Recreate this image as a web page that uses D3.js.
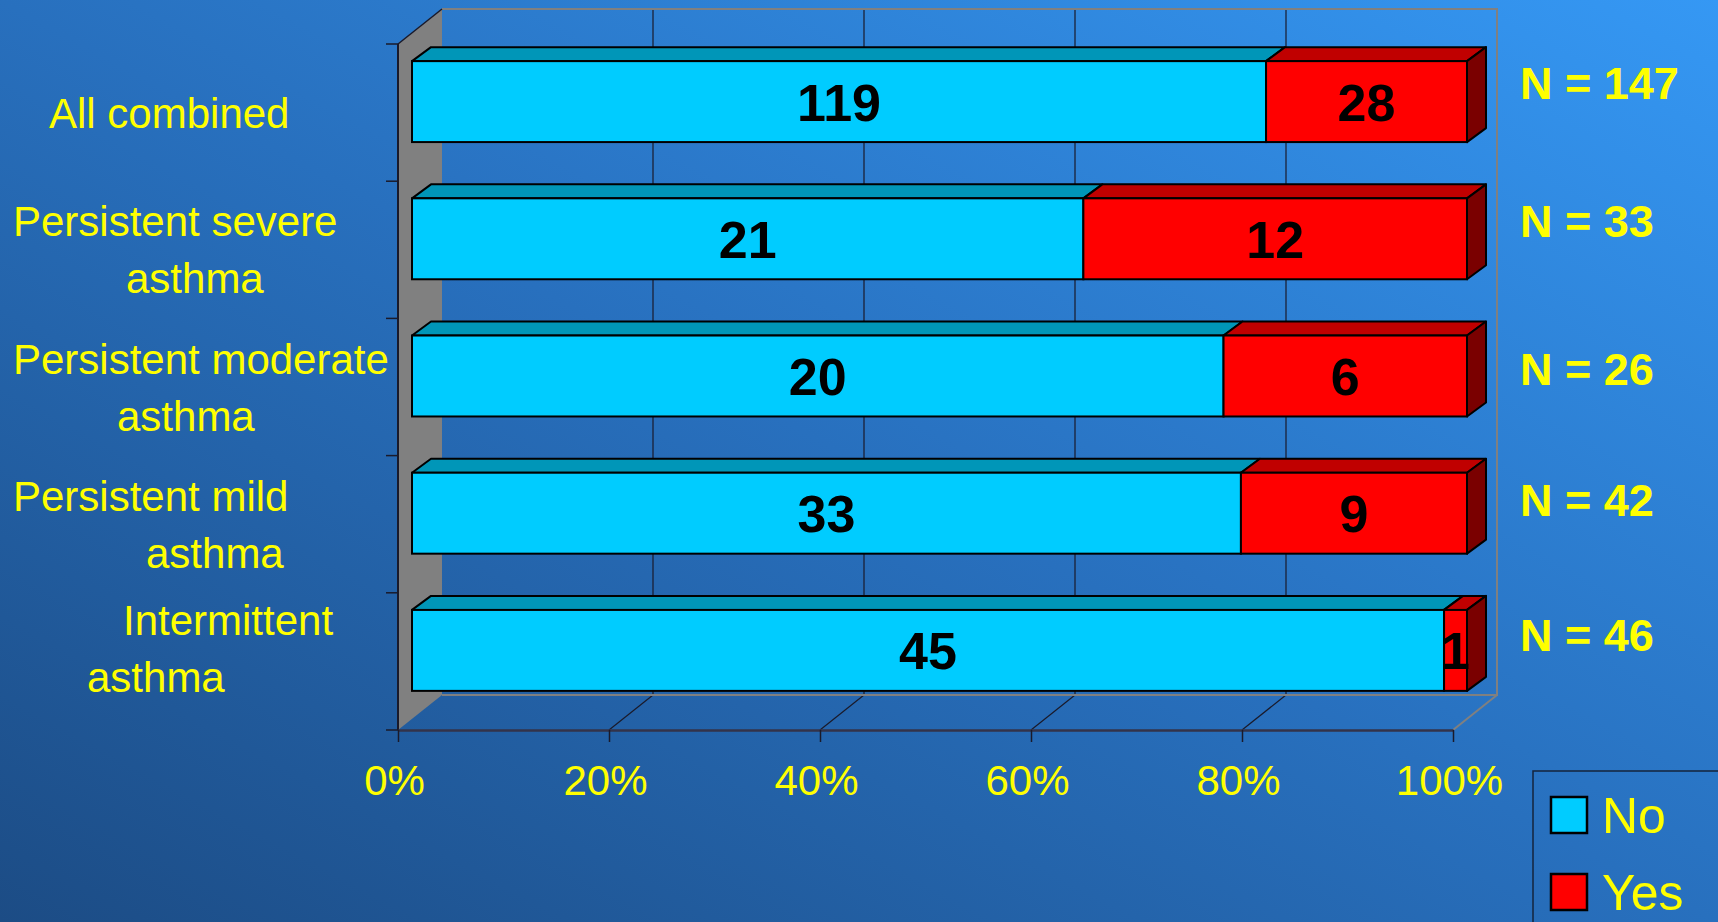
<!DOCTYPE html>
<html>
<head>
<meta charset="utf-8">
<script src="https://cdn.jsdelivr.net/npm/d3@7"></script>
<style>
  html, body { margin: 0; padding: 0; overflow: hidden; }
  svg { display: block; }
</style>
</head>
<body>
<svg id="chart" width="1718" height="922"></svg>
<script>
// ---------- DATA ----------
const categories = ["All combined", "Persistent severe asthma", "Persistent moderate asthma", "Persistent mild asthma", "Intermittent asthma"];
const categoryLines = [["All combined"], ["Persistent severe", "asthma"], ["Persistent moderate", "asthma"], ["Persistent mild", "asthma"], ["Intermittent", "asthma"]];
const seriesNames = ["No", "Yes"];
const noValues = [119, 21, 20, 33, 45];
const yesValues = [28, 12, 6, 9, 1];
const xTickValues = [0, 20, 40, 60, 80, 100];

// ---------- LAYOUT (positions / styles, separate from data) ----------
const W = 1718, H = 922;
const labelLayout = [
  { x: [49], dy: 0 },
  { x: [13, 126], dy: 0 },
  { x: [13, 117], dy: 0 },
  { x: [13, 146], dy: 0 },
  { x: [123, 87], dy: -13 }
];
const nLabelNudge = [-19, -18, -7, -13, -15];
const colors = {
  No:  { front: "#00CCFF", top: "#0096B8", side: "#007A99" },
  Yes: { front: "#FF0000", top: "#C00000", side: "#7A0000" }
};
const wallD = { dx: 44, dy: -35 };
const barF = { dx: 14, dy: -11 };
const barB = { dx: 33, dy: -25 };

const svg = d3.select("#chart");

// background gradient
const defs = svg.append("defs");
const grad = defs.append("linearGradient").attr("id", "bg")
  .attr("x1", "0").attr("y1", "1").attr("x2", "1").attr("y2", "0");
grad.append("stop").attr("offset", "0%").attr("stop-color", "#1C4C85");
grad.append("stop").attr("offset", "50%").attr("stop-color", "#2870BE");
grad.append("stop").attr("offset", "100%").attr("stop-color", "#3598F4");
svg.append("rect").attr("width", W).attr("height", H).attr("fill", "url(#bg)");

// scales
const x = d3.scaleLinear().domain([0, 100]).range([398, 1453]);
const y = d3.scaleBand().domain(categories).range([44, 730]).paddingInner(0.41).paddingOuter(0.205);
const yTop = 44, yBot = 730;
const bw = y.bandwidth();
const step = y.step();

// ---------- walls ----------
const g = svg.append("g");
// left (side) wall
g.append("polygon")
  .attr("points", [[x(0), yTop], [x(0) + wallD.dx, yTop + wallD.dy], [x(0) + wallD.dx, yBot + wallD.dy], [x(0), yBot]].join(" "))
  .attr("fill", "#808080");

// back wall gridlines
xTickValues.filter(v => v > 0 && v < 100).forEach(v => {
  g.append("line")
    .attr("x1", x(v) + wallD.dx).attr("x2", x(v) + wallD.dx)
    .attr("y1", yTop + wallD.dy).attr("y2", yBot + wallD.dy)
    .attr("stroke", "#1A1A2A").attr("stroke-width", 1.2);
  // floor diagonals
  g.append("line")
    .attr("x1", x(v)).attr("y1", yBot)
    .attr("x2", x(v) + wallD.dx).attr("y2", yBot + wallD.dy)
    .attr("stroke", "#1A1A2A").attr("stroke-width", 1.2);
});

// back wall border (gray)
g.append("path")
  .attr("d", `M${x(0) + wallD.dx},${yTop + wallD.dy} L${x(100) + wallD.dx},${yTop + wallD.dy} L${x(100) + wallD.dx},${yBot + wallD.dy} L${x(0) + wallD.dx},${yBot + wallD.dy}`)
  .attr("fill", "none").attr("stroke", "#808080").attr("stroke-width", 2);
g.append("line")
  .attr("x1", x(100) + wallD.dx).attr("y1", yBot + wallD.dy)
  .attr("x2", x(100)).attr("y2", yBot)
  .attr("stroke", "#808080").attr("stroke-width", 2);
// top diagonal of side wall
g.append("line")
  .attr("x1", x(0)).attr("y1", yTop)
  .attr("x2", x(0) + wallD.dx).attr("y2", yTop + wallD.dy)
  .attr("stroke", "#1A1A2A").attr("stroke-width", 1.5);

// ---------- axes ----------
g.append("line").attr("x1", x(0)).attr("x2", x(0)).attr("y1", yTop).attr("y2", yBot)
  .attr("stroke", "#1A1A2A").attr("stroke-width", 2);
const boundaries = categories.map(c => y(c) - (step - bw) / 2).concat([yBot]);
boundaries.forEach(b => {
  g.append("line").attr("x1", x(0) - 12).attr("x2", x(0)).attr("y1", b).attr("y2", b)
    .attr("stroke", "#1A1A2A").attr("stroke-width", 1.5);
});

const xAxis = d3.axisBottom(x).tickValues(xTickValues).tickSize(12).tickSizeOuter(0).tickFormat(d => d + "%");
const ax = svg.append("g").attr("transform", `translate(0,${yBot})`).call(xAxis);
ax.select(".domain").attr("stroke", "#33334A").attr("stroke-width", 2.5);
ax.selectAll(".tick line").attr("stroke", "#1A1A2A").attr("stroke-width", 1.5);
ax.selectAll(".tick text")
  .attr("y", 65).attr("dy", null).attr("dx", -4)
  .attr("fill", "#FFFF00")
  .style("font-family", "'Liberation Sans', Arial, sans-serif")
  .style("font-size", "42px");

// ---------- bars ----------
const rows = categories.map((c, i) => {
  const total = noValues[i] + yesValues[i];
  const noPct = noValues[i] / total * 100;
  return {
    cat: c, i, total,
    segs: [
      { s: "No", v: noValues[i], x0: 0, x1: noPct, last: false },
      { s: "Yes", v: yesValues[i], x0: noPct, x1: 100, last: true }
    ]
  };
});

const bars = svg.append("g");
const ddx = barB.dx - barF.dx, ddy = barB.dy - barF.dy;
rows.forEach(r => {
  const Y0 = y(r.cat) + barF.dy;
  const rg = bars.append("g");
  r.segs.forEach(sg => {
    const X0 = x(sg.x0) + barF.dx, X1 = x(sg.x1) + barF.dx;
    rg.append("polygon")
      .attr("points", [[X0, Y0], [X0 + ddx, Y0 + ddy], [X1 + ddx, Y0 + ddy], [X1, Y0]].join(" "))
      .attr("fill", colors[sg.s].top).attr("stroke", "#000").attr("stroke-width", 2).attr("stroke-linejoin", "round");
    if (sg.last) {
      rg.append("polygon")
        .attr("points", [[X1, Y0], [X1 + ddx, Y0 + ddy], [X1 + ddx, Y0 + ddy + bw], [X1, Y0 + bw]].join(" "))
        .attr("fill", colors[sg.s].side).attr("stroke", "#000").attr("stroke-width", 2).attr("stroke-linejoin", "round");
    }
  });
  r.segs.forEach(sg => {
    const X0 = x(sg.x0) + barF.dx, X1 = x(sg.x1) + barF.dx;
    rg.append("rect")
      .attr("x", X0).attr("y", Y0).attr("width", X1 - X0).attr("height", bw)
      .attr("fill", colors[sg.s].front).attr("stroke", "#000").attr("stroke-width", 2);
  });
  r.segs.forEach(sg => {
    const X0 = x(sg.x0) + barF.dx, X1 = x(sg.x1) + barF.dx;
    rg.append("text")
      .attr("x", (X0 + X1) / 2).attr("y", Y0 + bw / 2 + 19)
      .attr("text-anchor", "middle")
      .attr("fill", "#000")
      .style("font-family", "'Liberation Sans', Arial, sans-serif")
      .style("font-weight", "bold").style("font-size", "52px")
      .text(sg.v);
  });
  svg.append("text")
    .attr("x", 1520).attr("y", Y0 + bw / 2 + 16 + nLabelNudge[r.i])
    .attr("fill", "#FFFF00")
    .style("font-family", "'Liberation Sans', Arial, sans-serif")
    .style("font-weight", "bold").style("font-size", "45px")
    .text("N = " + r.total);
});

// ---------- category labels ----------
categories.forEach((c, i) => {
  const lines = categoryLines[i];
  const center = y(c) + bw / 2 + labelLayout[i].dy;
  const lh = 57;
  const first = center - (lines.length - 1) * lh / 2 + 15;
  lines.forEach((ln, k) => {
    svg.append("text")
      .attr("x", labelLayout[i].x[k]).attr("y", first + k * lh)
      .attr("fill", "#FFFF00")
      .style("font-family", "'Liberation Sans', Arial, sans-serif")
      .style("font-size", "42px")
      .text(ln);
  });
});

// ---------- legend ----------
const lg = svg.append("g");
lg.append("rect").attr("x", 1533).attr("y", 771).attr("width", 300).attr("height", 300)
  .attr("fill", "none").attr("stroke", "#14243C").attr("stroke-width", 1.5);
seriesNames.forEach((s, k) => {
  const yy = 797 + k * 77;
  lg.append("rect").attr("x", 1551).attr("y", yy).attr("width", 36).attr("height", 36)
    .attr("fill", colors[s].front).attr("stroke", "#000").attr("stroke-width", 2.5);
  lg.append("text").attr("x", 1602).attr("y", yy + 36)
    .attr("fill", "#FFFF00")
    .style("font-family", "'Liberation Sans', Arial, sans-serif")
    .style("font-size", "50px")
    .text(s);
});
</script>
</body>
</html>
